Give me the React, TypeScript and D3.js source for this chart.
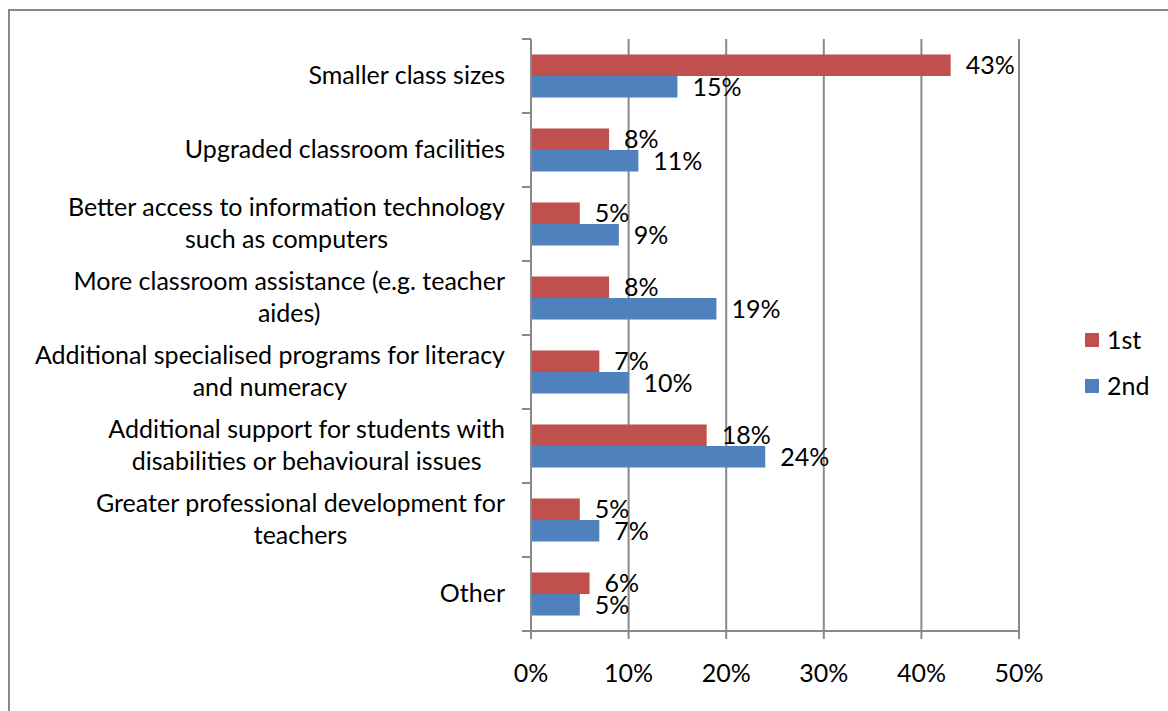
import React, { useRef, useEffect } from 'react';
import * as d3 from "d3";

const width = 1168;
const height = 711;
const margin = ({top: 39, right: 149, bottom: 80, left: 531});

const categories = [
    ["Smaller class sizes"],
    ["Upgraded classroom facilities"],
    ["Better access to information technology", "such as computers"],
    ["More classroom assistance (e.g. teacher", "aides)"],
    ["Additional specialised programs for literacy", "and numeracy"],
    ["Additional support for students with", "disabilities or behavioural issues"],
    ["Greater professional development for", "teachers"],
    ["Other"]
];
const seriesNames = ["1st", "2nd"];
const first = [43, 8, 5, 8, 7, 18, 5, 6];
const second = [15, 11, 9, 19, 10, 24, 7, 5];
const xTicks = [0, 10, 20, 30, 40, 50];

const colors = ["#C0504D", "#4F81BD"];
const gray = "#898989";
const font = "Lato, 'Open Sans', sans-serif";
const fontSize = 25;
const lift = -2; // central baseline sits a little low in Lato

export default function App() {
    const d3Container = useRef(null);

    useEffect(() => {
        if (!d3Container.current) return;
        const svg = d3.select(d3Container.current);
        svg.selectAll("*").remove();

        const data = categories.map((c, i) => ({key: String(i), lines: c, values: [first[i], second[i]]}));

        let x = d3.scaleLinear()
            .domain([0, 50])
            .range([margin.left, width - margin.right]);

        let y = d3.scaleBand()
            .domain(data.map(d => d.key))
            .range([margin.top, height - margin.bottom]);

        let ySub = d3.scaleBand()
            .domain(seriesNames)
            .range([0, y.bandwidth()])
            .paddingOuter(0.72);

        // chart frame
        svg.append("rect")
            .attr("x", 9).attr("y", 10)
            .attr("width", 1300).attr("height", 900)
            .attr("fill", "none")
            .attr("stroke", gray)
            .attr("stroke-width", 2);

        // grid
        svg.append("g")
            .selectAll("line")
            .data(xTicks.slice(1))
            .join("line")
            .attr("x1", d => x(d)).attr("x2", d => x(d))
            .attr("y1", margin.top).attr("y2", height - margin.bottom)
            .attr("stroke", gray)
            .attr("stroke-width", 2);

        // bars
        const groups = svg.append("g")
            .selectAll("g")
            .data(data)
            .join("g")
            .attr("transform", d => `translate(0,${y(d.key)})`);

        groups.selectAll("rect")
            .data(d => d.values.map((v, j) => ({name: seriesNames[j], value: v, j})))
            .join("rect")
            .attr("x", x(0))
            .attr("y", d => ySub(d.name))
            .attr("width", d => x(d.value) - x(0))
            .attr("height", ySub.bandwidth())
            .attr("fill", d => colors[d.j]);

        groups.selectAll("text")
            .data(d => d.values.map((v, j) => ({name: seriesNames[j], value: v})))
            .join("text")
            .attr("x", d => x(d.value) + 15)
            .attr("y", d => ySub(d.name) + ySub.bandwidth() / 2 + 1 + lift)
            .attr("dominant-baseline", "central")
            .attr("font-family", font)
            .attr("font-size", fontSize)
            .attr("fill", "#000")
            .text(d => d.value + "%");

        // y axis
        const yAxis = svg.append("g");
        yAxis.append("line")
            .attr("x1", x(0)).attr("x2", x(0))
            .attr("y1", margin.top).attr("y2", height - margin.bottom)
            .attr("stroke", gray).attr("stroke-width", 2);
        yAxis.selectAll(".tk")
            .data(d3.range(data.length + 1))
            .join("line")
            .attr("class", "tk")
            .attr("x1", x(0) - 9).attr("x2", x(0))
            .attr("y1", i => margin.top + i * y.step())
            .attr("y2", i => margin.top + i * y.step())
            .attr("stroke", gray).attr("stroke-width", 2);

        const labelRight = x(0) - 26;
        data.forEach(d => {
            const cy = y(d.key) + y.bandwidth() / 2 + lift;
            const t = yAxis.append("text")
                .attr("font-family", font)
                .attr("font-size", fontSize)
                .attr("fill", "#000");
            const n = d.lines.length;
            const spans = d.lines.map((line, k) => t.append("tspan")
                .attr("y", cy + (k - (n - 1) / 2) * 32)
                .attr("dominant-baseline", "central")
                .text(line));
            const widths = spans.map(s => s.node().getComputedTextLength());
            const w = d3.max(widths);
            spans.forEach(s => s.attr("x", labelRight - w / 2).attr("text-anchor", "middle"));
        });

        // x axis
        const xAxis = svg.append("g");
        xAxis.append("line")
            .attr("x1", x(0) - 9).attr("x2", x(50))
            .attr("y1", height - margin.bottom).attr("y2", height - margin.bottom)
            .attr("stroke", gray).attr("stroke-width", 2);
        xAxis.selectAll(".tk")
            .data(xTicks)
            .join("line")
            .attr("class", "tk")
            .attr("x1", d => x(d)).attr("x2", d => x(d))
            .attr("y1", height - margin.bottom).attr("y2", height - margin.bottom + 8)
            .attr("stroke", gray).attr("stroke-width", 2);
        xAxis.selectAll("text")
            .data(xTicks)
            .join("text")
            .attr("x", d => x(d))
            .attr("y", height - margin.bottom + 43 + lift)
            .attr("text-anchor", "middle")
            .attr("dominant-baseline", "central")
            .attr("font-family", font)
            .attr("font-size", fontSize)
            .attr("fill", "#000")
            .text(d => d + "%");

        // legend
        const legend = svg.append("g")
            .selectAll("g")
            .data(seriesNames)
            .join("g")
            .attr("transform", (d, i) => `translate(1085,${333 + i * 46})`);
        legend.append("rect")
            .attr("width", 14).attr("height", 14)
            .attr("fill", (d, i) => colors[i]);
        legend.append("text")
            .attr("x", 22).attr("y", 8 + lift)
            .attr("dominant-baseline", "central")
            .attr("font-family", font)
            .attr("font-size", fontSize)
            .attr("fill", "#000")
            .text(d => d);
    }, []);

    return (
        <svg ref={d3Container} width={width} height={height}
            style={{position: "absolute", left: 0, top: 0, background: "#fff"}} />
    );
}
